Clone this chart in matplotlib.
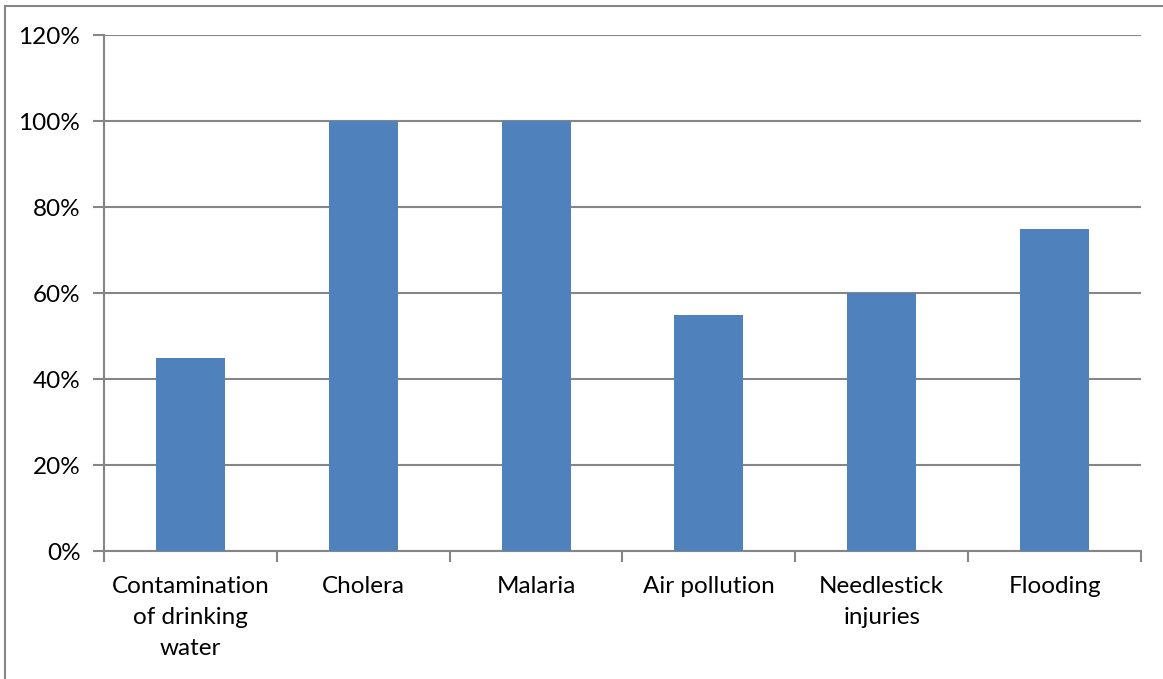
import matplotlib.pyplot as plt
from matplotlib.patches import Rectangle
from matplotlib.ticker import FixedLocator, PercentFormatter

plt.rcParams['font.family'] = ['Lato', 'DejaVu Sans']

categories = ['Contamination\nof drinking\nwater', 'Cholera', 'Malaria',
              'Air pollution', 'Needlestick\ninjuries', 'Flooding']
values = [45, 100, 100, 55, 60, 75]
y_ticks = [0, 20, 40, 60, 80, 100, 120]

W, H = 1163, 679
fig = plt.figure(figsize=(W / 100, H / 100), dpi=100)
ax = fig.add_axes([104 / W, 1 - 551 / H, (1141 - 104) / W, (551 - 35) / H])

grey = '#868686'
x = list(range(len(categories)))
ax.bar(x, values, width=0.4, color='#4F81BD', zorder=3)

ax.set_xlim(-0.5, len(categories) - 0.5)
ax.set_ylim(0, 120)
ax.set_yticks(y_ticks)
ax.yaxis.set_major_formatter(PercentFormatter(decimals=0))
ax.grid(axis='y', color=grey, linewidth=1.5, zorder=0)

# category labels centred, tick marks on the boundaries
ax.set_xticks(x)
ax.set_xticklabels(categories, linespacing=1.6, va='top')
ax.xaxis.set_minor_locator(FixedLocator([i - 0.5 for i in range(len(categories) + 1)]))
ax.tick_params(axis='x', which='major', length=0, pad=18)
ax.tick_params(axis='x', which='minor', length=8, width=1.5, color=grey, direction='out')
ax.tick_params(axis='y', length=8, width=1.5, color=grey, direction='out', pad=9)
ax.tick_params(labelsize=17.5, labelcolor='black')

for side in ('top', 'right'):
    ax.spines[side].set_visible(False)
for side in ('left', 'bottom'):
    ax.spines[side].set_color(grey)
    ax.spines[side].set_linewidth(1.5)

# outer chart frame
fig.patches.append(Rectangle((4.5 / W, -0.1), 1.2, 1.1 - 6 / H,
                             transform=fig.transFigure, fill=False,
                             edgecolor=grey, linewidth=1.5))

fig.savefig('out.png', dpi=100)
